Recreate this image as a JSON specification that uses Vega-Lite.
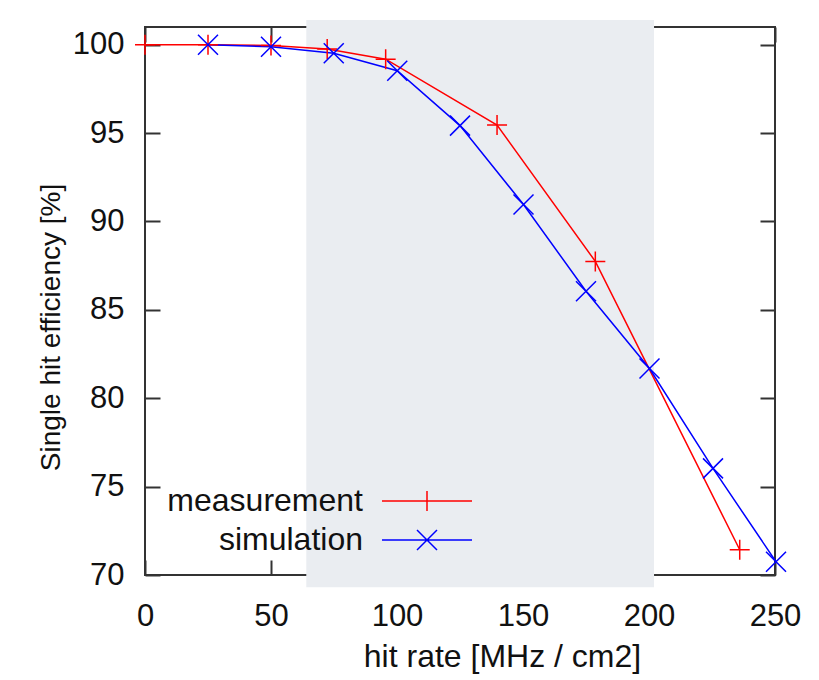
{
  "$schema": "https://vega.github.io/schema/vega-lite/v6.json",
  "width": 630,
  "height": 548,
  "autosize": {"type": "none"},
  "padding": {"left": 145, "top": 27, "right": 44, "bottom": 105},
  "background": "white",
  "config": {
    "font": "Liberation Sans",
    "view": {"stroke": "#333333", "strokeWidth": 2},
    "axis": {
      "grid": false,
      "domain": false,
      "tickColor": "#333333",
      "tickWidth": 2,
      "tickSize": -15,
      "labelFlush": false,
      "labelFont": "Liberation Sans",
      "labelFontSize": 31,
      "labelColor": "#111111",
      "titleFont": "Liberation Sans",
      "titleFontSize": 32,
      "titleFontWeight": "normal",
      "titleColor": "#111111",
      "zindex": 1
    }
  },
  "datasets": {
    "curves": [
      {"rate": 0, "eff": 100.0, "series": "measurement"},
      {"rate": 25, "eff": 100.0, "series": "measurement"},
      {"rate": 50, "eff": 99.95, "series": "measurement"},
      {"rate": 72.3, "eff": 99.76, "series": "measurement"},
      {"rate": 95.5, "eff": 99.18, "series": "measurement"},
      {"rate": 139.7, "eff": 95.45, "series": "measurement"},
      {"rate": 178.7, "eff": 87.74, "series": "measurement"},
      {"rate": 236, "eff": 71.43, "series": "measurement"},
      {"rate": 25, "eff": 100.0, "series": "simulation"},
      {"rate": 50, "eff": 99.88, "series": "simulation"},
      {"rate": 74.9, "eff": 99.51, "series": "simulation"},
      {"rate": 100.1, "eff": 98.53, "series": "simulation"},
      {"rate": 125, "eff": 95.42, "series": "simulation"},
      {"rate": 150.2, "eff": 90.96, "series": "simulation"},
      {"rate": 175, "eff": 86.05, "series": "simulation"},
      {"rate": 200.2, "eff": 81.68, "series": "simulation"},
      {"rate": 225.4, "eff": 76.03, "series": "simulation"},
      {"rate": 250.4, "eff": 70.75, "series": "simulation"}
    ]
  },
  "layer": [
    {
      "data": {"values": [{"from": 64, "to": 202}]},
      "mark": {"type": "rect", "color": "#eaedf1", "clip": false},
      "encoding": {
        "x": {
          "field": "from", "type": "quantitative",
          "scale": {"domain": [0, 250], "nice": false, "zero": false},
          "axis": {"orient": "top", "values": [0, 50, 100, 150, 200, 250], "labels": false, "title": null}
        },
        "x2": {"field": "to"},
        "y": {
          "datum": 69.3, "type": "quantitative",
          "scale": {"domain": [70, 101], "nice": false, "zero": false},
          "axis": {"orient": "right", "values": [70, 75, 80, 85, 90, 95, 100], "labels": false, "title": null}
        },
        "y2": {"datum": 101.4}
      }
    },
    {
      "data": {"name": "curves"},
      "mark": {"type": "line", "strokeWidth": 1.5, "clip": false},
      "encoding": {
        "x": {
          "field": "rate", "type": "quantitative",
          "scale": {"domain": [0, 250], "nice": false, "zero": false},
          "axis": {
            "orient": "bottom", "values": [0, 50, 100, 150, 200, 250],
            "labelPadding": 41,
            "title": "hit rate [MHz / cm2]",
            "titleX": 357, "titleY": 91, "titleBaseline": "alphabetic"
          }
        },
        "y": {
          "field": "eff", "type": "quantitative",
          "scale": {"domain": [70, 101], "nice": false, "zero": false},
          "axis": {
            "orient": "left", "values": [70, 75, 80, 85, 90, 95, 100],
            "labelPadding": 36,
            "title": "Single hit efficiency [%]",
            "titleFontSize": 28,
            "titleX": -86, "titleY": 300, "titleBaseline": "alphabetic", "titleAngle": -90
          }
        },
        "color": {
          "field": "series", "type": "nominal",
          "scale": {"domain": ["measurement", "simulation"], "range": ["#ff0000", "#0000ff"]},
          "legend": {
            "orient": "none",
            "legendX": 266,
            "legendY": 458,
            "title": null,
            "padding": 0,
            "symbolSize": 400,
            "symbolStrokeWidth": 1.5,
            "labelFont": "Liberation Sans",
            "labelFontSize": 32,
            "labelLimit": 500,
            "labelColor": "#111111",
            "labelAlign": "right",
            "labelOffset": -80,
            "rowPadding": 7,
            "encode": {
              "symbols": {
                "update": {
                  "shape": {"signal": "datum.value === 'measurement' ? 'M-4.5,0L4.5,0M0,-1L0,1' : 'M-4.5,0L4.5,0M-1,-1L1,1M-1,1L1,-1'"},
                  "fill": {"value": "transparent"}
                }
              }
            }
          }
        }
      }
    },
    {
      "data": {"name": "curves"},
      "transform": [{"filter": "datum.series === 'measurement'"}],
      "mark": {"type": "point", "shape": "M-1,0L1,0M0,-1L0,1", "filled": false, "color": "#ff0000", "strokeWidth": 1.5, "size": 400, "opacity": 1, "clip": false},
      "encoding": {
        "x": {"field": "rate", "type": "quantitative", "axis": null},
        "y": {"field": "eff", "type": "quantitative", "axis": null}
      }
    },
    {
      "data": {"name": "curves"},
      "transform": [{"filter": "datum.series === 'simulation'"}],
      "mark": {"type": "point", "shape": "M-1,-1L1,1M-1,1L1,-1", "filled": false, "color": "#0000ff", "strokeWidth": 1.5, "size": 400, "opacity": 1, "clip": false},
      "encoding": {
        "x": {"field": "rate", "type": "quantitative", "axis": null},
        "y": {"field": "eff", "type": "quantitative", "axis": null}
      }
    }
  ],
  "resolve": {"axis": {"x": "independent", "y": "independent"}}
}
